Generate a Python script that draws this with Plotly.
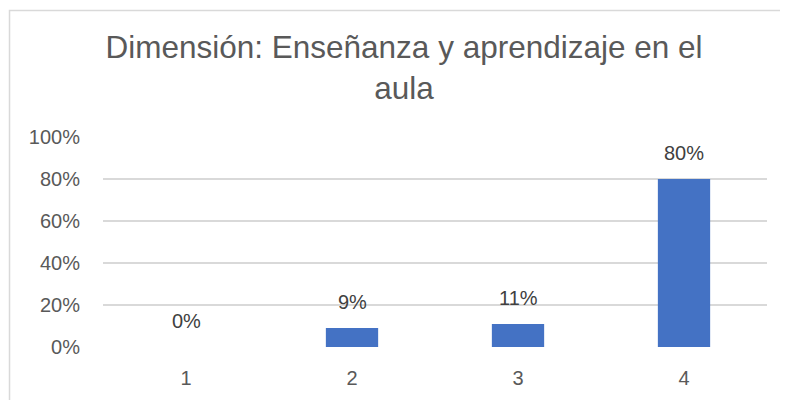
import plotly.graph_objects as go

# Datos del gráfico
categorias = ["1", "2", "3", "4"]
valores = [0.00, 0.09, 0.11, 0.80]
etiquetas = ["0%", "9%", "11%", "80%"]
titulo = "Dimensión: Enseñanza y aprendizaje en el<br>aula"

fig = go.Figure()
fig.add_trace(go.Bar(
    x=categorias,
    y=valores,
    marker_color="#4472C4",
    marker_line_width=0,
    width=0.315,
    hoverinfo="skip",
))

# Etiquetas de datos por encima de cada barra (posición por índice de categoría)
for i, (v, t) in enumerate(zip(valores, etiquetas)):
    fig.add_annotation(x=i, y=v, text=t, showarrow=False, yanchor="bottom",
                       yshift=13, font=dict(family="Liberation Sans", size=20, color="#404040"))

# Borde del área del gráfico
fig.add_shape(type="rect", xref="paper", yref="paper",
              x0=-0.1408, x1=1.06, y0=-0.3, y1=1.602,
              line=dict(color="#d9d9d9", width=1.5), layer="below")

# la página añade 8 px de margen, por eso los márgenes van corregidos
fig.update_layout(
    width=788, height=400,
    margin=dict(l=95, r=29, t=129, b=61),
    paper_bgcolor="white", plot_bgcolor="white",
    showlegend=False,
    title=dict(text=titulo, x=396 / 788, xanchor="center", xref="container",
               y=1 - 50 / 400, yanchor="middle", yref="container",
               font=dict(family="Liberation Sans", size=31.5, color="#595959")),
    font=dict(family="Liberation Sans", size=20, color="#595959"),
)
fig.update_xaxes(type="category", range=[-0.5, 3.5], showgrid=False, showline=False,
                 ticks="", ticklabelstandoff=17)
fig.update_yaxes(range=[0, 1.0001], tickvals=[0, 0.2, 0.4, 0.6, 0.8, 1.0],
                 tickformat=".0%", gridcolor="#d9d9d9", gridwidth=1.5,
                 zeroline=False, showline=False, ticks="", ticklabelstandoff=22)

fig.write_html("out.html")
